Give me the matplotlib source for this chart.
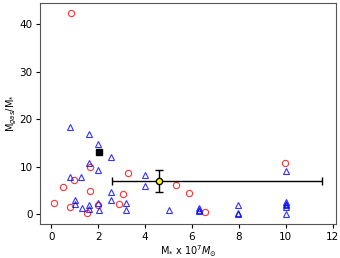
import numpy as np
import matplotlib
matplotlib.use('Agg')
import matplotlib.pyplot as plt

# circulos rojos
xr = [0.85, 1.66, 0.98, 3.28, 0.5, 1.65, 3.05, 0.1, 0.78, 1.53, 1.99, 2.89, 9.96, 5.32, 5.87, 6.55]
yr = [42.3, 10.0, 7.2, 8.8, 5.8, 4.9, 4.2, 2.35, 1.6, 0.35, 1.9, 2.1, 10.9, 6.25, 4.4, 0.5]

# triangulos azules
xb = [0.81, 1.59, 2.0, 2.54, 1.59, 2.0, 0.81, 1.29, 4.0, 4.0, 2.55, 2.55, 1.03, 1.03, 1.31, 1.59, 1.59,
      2.0, 2.03, 3.18, 3.19, 5.02, 10.01, 6.3, 6.3, 6.3, 7.96, 7.96, 7.96, 10.0, 10.0, 10.0, 10.0, 10.0]
yb = [18.3, 17.0, 14.8, 12.0, 10.8, 9.3, 7.9, 7.9, 8.3, 5.9, 4.7, 3.06, 3.06, 2.15, 1.25, 1.95, 1.04,
      2.3, 0.9, 2.3, 0.83, 0.9, 9.2, 1.3, 1.0, 0.7, 2.0, 0.2, 0.1, 2.5, 2.2, 1.9, 1.6, 0.15]

# cuadro negro
xs, ys = 2.04, 13.2

# promedio con barras de error
xm, ym = 4.58, 7.1
xerr_m = [[1.98], [6.98]]
yerr_m = [[2.3], [2.3]]

fig = plt.figure(figsize=(3.4, 2.58), dpi=100)
ax = fig.add_axes([0.118, 0.132, 0.870, 0.856])

ax.plot(xr, yr, 'o', color='red', mfc='none', markersize=4.5, mew=0.8, alpha=0.8)
ax.plot(xb, yb, '^', color='blue', mfc='none', markersize=4.2, mew=0.8, alpha=0.8)
ax.plot(xs, ys, 's', color='black', markersize=4)
ax.errorbar(xm, ym, xerr=xerr_m, yerr=yerr_m, fmt='o', color='black', mfc='yellow', mec='black',
            markersize=4.5, capsize=3, elinewidth=1.0)

ax.set_xticks(np.arange(0, 13, 2))
ax.set_yticks(np.arange(0, 41, 10))
ax.tick_params(labelsize=7.5, length=3, pad=2.5)
for s in ax.spines.values():
    s.set_color('#555555')
ax.set_xlabel(r'M$_{*}$ x 10$^{7}M_{\odot}$', fontsize=7, labelpad=1)
ax.set_ylabel(r'M$_{gas}$/M$_{*}$', fontsize=7, labelpad=0)

fig.savefig('out.png', dpi=100)
